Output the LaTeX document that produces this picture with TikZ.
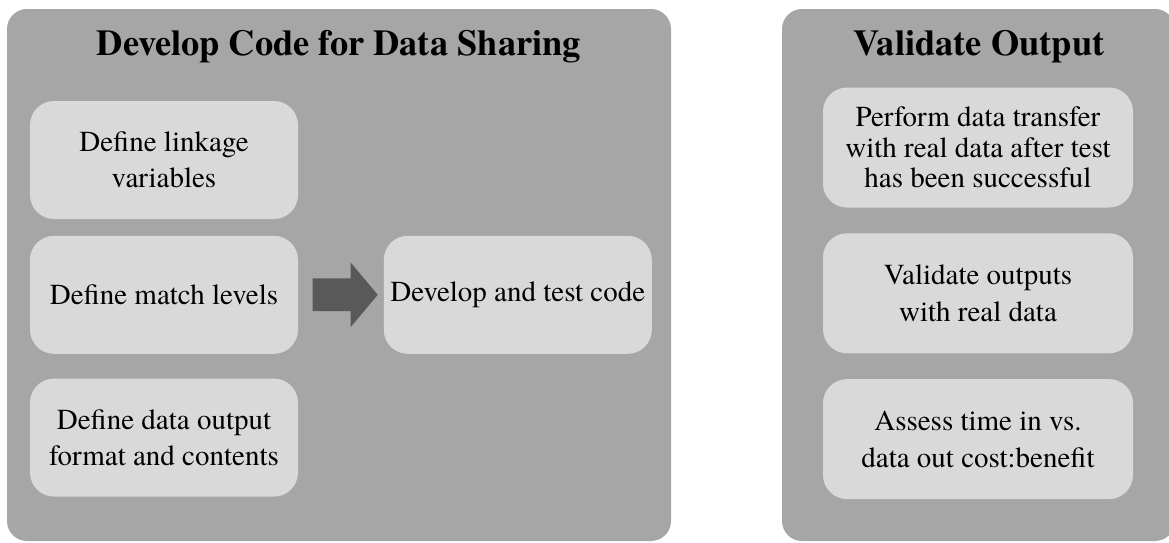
\documentclass[tikz,border=0pt]{standalone}
\usepackage{fontspec}
\setmainfont{TeX Gyre Termes}
\definecolor{panelgray}{HTML}{A6A6A6}
\definecolor{boxgray}{HTML}{D9D9D9}
\definecolor{arrowgray}{HTML}{595959}
\usetikzlibrary{positioning,shapes.arrows}
\tikzset{
  panel/.style={fill=panelgray,rounded corners=10pt},
  paneltitle/.style={font=\rmfamily\fontsize{18.2}{22}\selectfont\bfseries,inner sep=0pt},
  stepbox/.style={fill=boxgray,rounded corners=12pt,minimum width=134pt,
    minimum height=59pt,inner sep=2pt,align=center,font=\rmfamily\fontsize{14.5}{18}\selectfont},
  valbox/.style={fill=boxgray,rounded corners=12pt,minimum width=155pt,
    minimum height=60pt,inner sep=2pt,align=center,font=\rmfamily\fontsize{14.5}{18.3}\selectfont},
  fatarrow/.style={single arrow,fill=arrowgray,inner xsep=0pt,inner ysep=8pt,minimum height=32.5pt,
    minimum width=32pt,single arrow head extend=8pt,single arrow tip angle=100},
}

\begin{document}
\begin{tikzpicture}[x=0.5pt,y=-0.5pt]
  \useasboundingbox (0,0) rectangle (1169,542);
  % panels
  \fill[panel] (7,9) rectangle (671,541);
  \fill[panel] (782,9) rectangle (1175,541);
  \node[paneltitle] (devtitle) at (339,47) {Develop Code for Data Sharing};
  \node[paneltitle] (valtitle) at (979,47) {Validate Output};
  % left panel
  \node[stepbox] (link) at (164,160) {Define linkage\\variables};
  \node[stepbox,below=8pt of link] (match) {Define match levels};
  \node[stepbox,below=12pt of match] (outfmt) {Define data output\\format and contents};
  \node[stepbox,right=42.5pt of match] (devtest) {Develop and test code};
  \path (match.east) -- node[fatarrow,pos=0.47] (go) {} (devtest.west);
  % right panel
  \node[valbox,font=\rmfamily\fontsize{14.5}{15.2}\selectfont] (transfer) at (978,147.5) {Perform data transfer\\with real data after test\\has been successful};
  \node[valbox,below=12.5pt of transfer] (check) {Validate outputs\\with real data};
  \node[valbox,below=12.5pt of check] (cost) {Assess time in vs.\\data out cost:benefit};
\end{tikzpicture}
\end{document}
